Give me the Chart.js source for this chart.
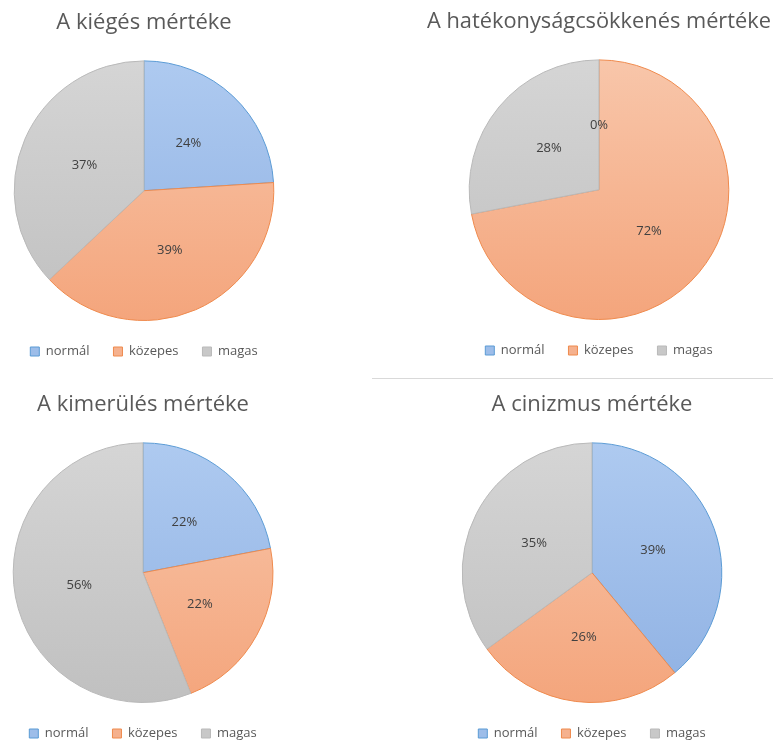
<!DOCTYPE html>
<html>
<head>
<meta charset="utf-8">
<script src="https://cdn.jsdelivr.net/npm/chart.js@4/dist/chart.umd.min.js"></script>
<style>
  body { margin: 0; background: #fff; }
  #wrap { position: relative; width: 773px; height: 742px; overflow: hidden; }
  .box { position: absolute; height: 368px; }
  .sep { position: absolute; left: 372px; top: 378px; width: 401px; border-top: 1px solid #d9d9d9; }
</style>
</head>
<body>
<div id="wrap">
  <div class="box" style="left:-16px;top:0px;width:320px"><canvas id="c1"></canvas></div>
  <div class="box" style="left:427px;top:-1px;width:344px"><canvas id="c2"></canvas></div>
  <div class="sep"></div>
  <div class="box" style="left:-17px;top:382px;width:320px"><canvas id="c3"></canvas></div>
  <div class="box" style="left:432px;top:382px;width:320px"><canvas id="c4"></canvas></div>
</div>
<script>
const categories = ['normál', 'közepes', 'magas'];

const kiegesValues = [24, 39, 37];
const hatekonysagValues = [0, 72, 28];
const kimerulesValues = [22, 22, 56];
const cinizmusValues = [39, 26, 35];

const titles = [
    'A kiégés mértéke',
    'A hatékonyságcsökkenés mértéke',
    'A kimerülés mértéke',
    'A cinizmus mértéke'
];

const fontFamily = "'Open Sans', 'Noto Sans', sans-serif";
const topColors = ['#aecaf0', '#f8c6aa', '#d5d5d5'];
const bottomColors = ['#8fb1e3', '#f4a57c', '#c0c0c0'];
const flatColors = ['#9dbde9', '#f5b18e', '#c8c8c8'];
const borderColors = ['#5b9bd5', '#ef8a4d', '#b9b9b9'];

// vertical gradient like the office style fills
function sliceFill(context) {
    const i = context.dataIndex;
    const area = context.chart.chartArea;
    if (!area) return flatColors[i];
    const g = context.chart.ctx.createLinearGradient(0, area.top, 0, area.bottom);
    g.addColorStop(0, topColors[i]);
    g.addColorStop(1, bottomColors[i]);
    return g;
}

// percentage labels inside each slice
const pctLabels = {
    id: 'pctLabels',
    afterDatasetsDraw(chart) {
        const ctx = chart.ctx;
        const meta = chart.getDatasetMeta(0);
        const values = chart.data.datasets[0].data;
        ctx.save();
        ctx.font = '13px ' + fontFamily;
        ctx.fillStyle = '#404040';
        ctx.textAlign = 'center';
        ctx.textBaseline = 'middle';
        meta.data.forEach((arc, i) => {
            const p = arc.getProps(['x', 'y', 'startAngle', 'endAngle', 'outerRadius'], true);
            const mid = (p.startAngle + p.endAngle) / 2;
            const r = p.outerRadius * 0.5;
            ctx.fillText(values[i] + '%', p.x + Math.cos(mid) * r, p.y + Math.sin(mid) * r);
        });
        ctx.restore();
    }
};

function makePie(id, title, values) {
    new Chart(document.getElementById(id), {
        type: 'pie',
        data: {
            labels: categories,
            datasets: [{
                data: values,
                backgroundColor: sliceFill,
                borderColor: borderColors,
                borderWidth: 1,
                hoverOffset: 0
            }]
        },
        options: {
            responsive: true,
            maintainAspectRatio: false,
            animation: false,
            events: [],
            layout: { padding: 0 },
            plugins: {
                title: {
                    display: true,
                    text: title,
                    color: '#595959',
                    font: { family: fontFamily, size: 22, weight: 'normal' },
                    padding: { top: 10, bottom: 24 }
                },
                legend: {
                    position: 'bottom',
                    labels: {
                        color: '#595959',
                        font: { family: fontFamily, size: 13 },
                        boxWidth: 9,
                        boxHeight: 9,
                        padding: 24,
                        generateLabels: () => categories.map((c, i) => ({
                            text: c,
                            fillStyle: flatColors[i],
                            strokeStyle: borderColors[i],
                            lineWidth: 1,
                            fontColor: '#595959',
                            index: i
                        }))
                    }
                },
                tooltip: { enabled: false }
            }
        },
        plugins: [pctLabels]
    });
}

makePie('c1', titles[0], kiegesValues);
makePie('c2', titles[1], hatekonysagValues);
makePie('c3', titles[2], kimerulesValues);
makePie('c4', titles[3], cinizmusValues);
</script>
</body>
</html>
